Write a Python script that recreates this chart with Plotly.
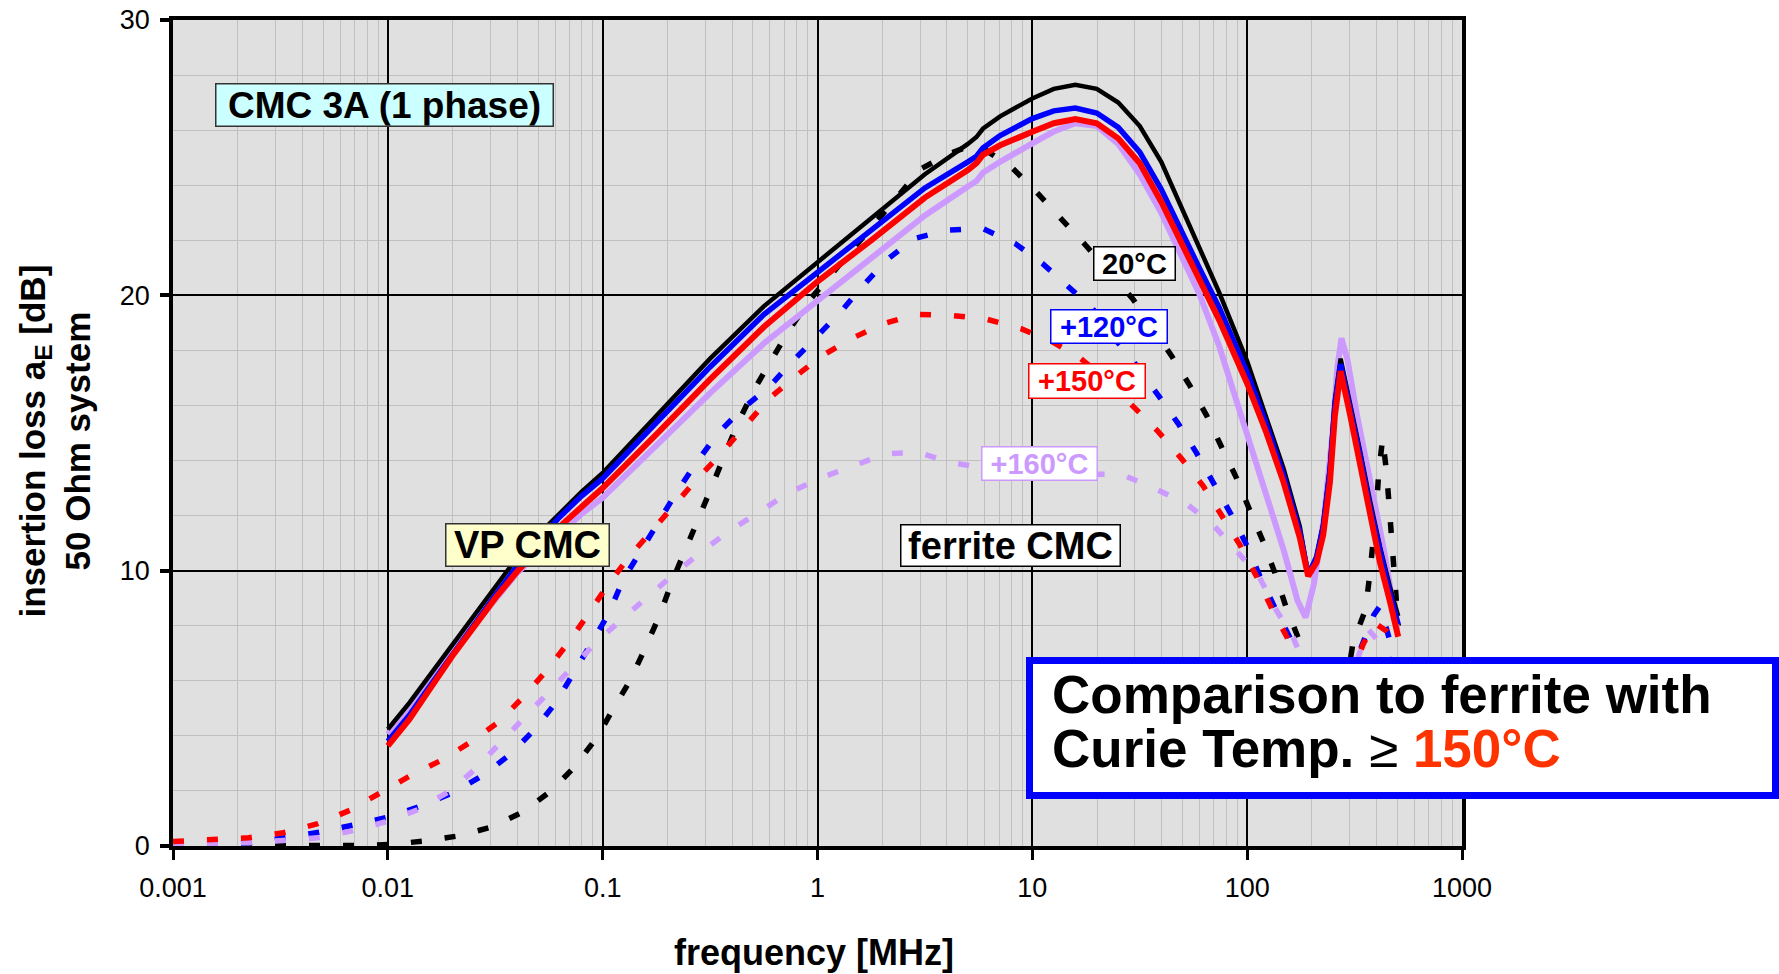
import plotly.graph_objects as go

# ---------------- data (frequency in MHz, insertion loss in dB) ----------------
# VP CMC (solid curves), common frequency grid for 20 / 120 / 150 degC
vp_freq = [0.01, 0.01259, 0.01585, 0.01995, 0.02512, 0.03162, 0.03981, 0.05012, 0.0631, 0.07943,
           0.1, 0.1778, 0.3162, 0.5623, 1.0, 1.778, 3.162, 5.012, 5.495, 5.888, 7.079,
           10.0, 12.59, 15.85, 19.95, 25.12, 31.62, 39.81, 50.12, 60.26, 74.13,
           100.0, 123.0, 147.9, 175.8, 192.3, 210.4, 225.9, 242.7, 255.9, 272.3,
           300.6, 335.0, 372.4, 415.0, 461.3, 504.7]
vp_20 = [4.24, 5.2, 6.25, 7.3, 8.3, 9.4, 10.45, 11.3, 12.1, 12.85,
         13.55, 15.6, 17.7, 19.6, 21.2, 22.8, 24.4, 25.5, 25.75, 26.05, 26.5,
         27.15, 27.5, 27.65, 27.5, 27.0, 26.15, 24.85, 23.1, 21.6, 20.1,
         17.6, 15.6, 13.7, 11.6, 9.86, 10.5, 11.7, 13.77, 16.2, 17.7,
         16.2, 14.37, 12.57, 10.88, 9.43, 8.35]
vp_120 = [3.8, 4.75, 5.85, 6.95, 8.0, 9.1, 10.15, 11.1, 11.95, 12.7,
          13.35, 15.35, 17.4, 19.3, 20.85, 22.4, 23.9, 24.85, 25.05, 25.35, 25.8,
          26.42, 26.7, 26.8, 26.62, 26.1, 25.2, 23.85, 22.3, 20.95, 19.55,
          17.2, 15.3, 13.45, 11.4, 9.85, 10.5, 11.6, 13.6, 16.0, 17.5,
          16.0, 14.2, 12.35, 10.65, 9.2, 8.05]
vp_150 = [3.64, 4.6, 5.75, 6.9, 7.95, 9.0, 9.95, 10.8, 11.6, 12.3,
          13.0, 14.95, 16.95, 18.85, 20.5, 22.0, 23.55, 24.55, 24.8, 25.1, 25.45,
          25.94, 26.25, 26.4, 26.25, 25.7, 24.8, 23.4, 21.85, 20.5, 19.1,
          16.8, 15.0, 13.2, 11.2, 9.8, 10.3, 11.3, 13.2, 15.6, 17.25,
          15.7, 13.9, 12.0, 10.3, 8.9, 7.6]
vp_160_freq = [0.01, 0.01259, 0.01585, 0.01995, 0.02512, 0.03162, 0.03981, 0.05012, 0.0631, 0.07943,
               0.1, 0.1778, 0.3162, 0.5623, 1.0, 1.778, 3.162, 5.012, 5.495, 5.888, 7.079,
               10.0, 12.59, 15.85, 19.95, 25.12, 31.62, 39.81, 50.12, 60.26, 74.13,
               100.0, 123.0, 147.9, 171.4, 187.1, 204.6, 228.0, 249.5, 263.0, 274.8,
               293.1, 325.8, 375.8, 433.5, 500.0]
vp_160 = [4.05, 5.0, 6.0, 7.05, 8.0, 9.0, 9.9, 10.65, 11.35, 12.05,
          12.65, 14.55, 16.45, 18.25, 19.8, 21.3, 22.9, 23.95, 24.15, 24.45, 24.85,
          25.52, 25.95, 26.25, 26.15, 25.5, 24.4, 23.0, 21.4, 20.0, 18.15,
          14.95, 12.65, 10.75, 8.92, 8.3, 9.53, 11.95, 14.98, 17.4, 18.44,
          17.65, 15.58, 13.16, 10.74, 7.83]

# ferrite CMC (dotted curves)
fe_20_freq = [0.001, 0.00316, 0.00708, 0.01, 0.0148, 0.0211, 0.0305, 0.0428, 0.0575, 0.0735,
              0.094, 0.113, 0.134, 0.158, 0.185, 0.211, 0.243, 0.281, 0.321, 0.367,
              0.424, 0.509, 0.612, 0.736, 0.912, 1.175, 1.514, 1.995, 2.41, 3.04,
              4.12, 5.01, 6.0, 8.13, 10.6, 13.6, 17.7, 29.3, 44.5, 54.1,
              64.7, 75.9, 89.1, 102.8, 118.6, 134.6, 151.4, 172.6, 204, 240,
              275, 311, 356, 372, 386, 400, 409, 427, 446, 458,
              470, 482, 495, 505]
fe_20 = [0.0, 0.0, 0.02, 0.05, 0.18, 0.36, 0.69, 1.25, 2.0, 2.85,
         3.94, 5.03, 6.0, 7.2, 8.42, 9.64, 10.73, 11.94, 13.03, 14.18,
         15.33, 16.6, 17.63, 18.73, 19.8, 20.8, 21.8, 22.9, 23.64, 24.6,
         25.15, 25.4, 25.3, 24.6, 23.7, 22.79, 21.82, 19.88, 17.8, 16.72,
         15.64, 14.5, 13.37, 12.2, 11.06, 9.92, 8.7, 7.57, 5.9, 4.6,
         4.8, 7.38, 8.6, 9.86, 11.0, 12.3, 13.5, 14.8, 13.55, 12.3,
         11.06, 9.86, 8.6, 8.0]
fe_120_freq = [0.001, 0.00151, 0.0023, 0.00332, 0.00479, 0.00692, 0.01, 0.0139, 0.0202, 0.0275,
               0.0369, 0.0483, 0.0604, 0.0735, 0.0885, 0.1064, 0.124, 0.149, 0.182, 0.223,
               0.271, 0.341, 0.445, 0.593, 0.759, 0.989, 1.279, 1.633, 2.089, 2.805,
               4.055, 5.861, 8.318, 11.17, 14.89, 18.97, 25.12, 30.48, 38.64, 47.75,
               58.08, 70.15, 83.95, 99.3, 114.6, 134.6, 158.1, 190.5, 239.9, 295.1,
               346.7, 389.0, 415.0, 458.0, 505.0]
fe_120 = [0.04, 0.06, 0.12, 0.3, 0.5, 0.76, 1.05, 1.42, 1.94, 2.55,
          3.31, 4.24, 5.2, 6.3, 7.4, 8.42, 9.64, 10.67, 11.8, 12.9,
          13.88, 14.96, 15.87, 16.66, 17.57, 18.48, 19.39, 20.36, 21.27, 22.06,
          22.37, 22.43, 21.88, 21.15, 20.3, 19.54, 18.27, 17.46, 16.36, 15.34,
          14.28, 13.17, 12.06, 10.94, 9.8, 8.65, 7.57, 6.0, 4.8, 6.0,
          7.4, 8.4, 8.71, 7.63, 6.4]
fe_150_freq = [0.001, 0.00154, 0.00225, 0.00326, 0.00472, 0.00667, 0.00918, 0.0127, 0.0178, 0.0245,
               0.033, 0.0428, 0.0547, 0.0692, 0.0857, 0.105, 0.132, 0.169, 0.216, 0.275,
               0.349, 0.45, 0.593, 0.782, 1.03, 1.429, 2.028, 2.877, 4.159, 6.012,
               8.851, 12.47, 16.67, 22.39, 29.44, 38.55, 49.43, 62.37, 75.86, 92.47,
               110.4, 129.7, 153.5, 186.2, 239.9, 295.1, 346.7, 392.6, 446.7, 505.0]
fe_150 = [0.16, 0.22, 0.3, 0.48, 0.81, 1.3, 1.9, 2.55, 3.12, 3.79,
          4.52, 5.42, 6.36, 7.39, 8.42, 9.45, 10.48, 11.45, 12.36, 13.33,
          14.18, 15.2, 16.24, 17.03, 17.76, 18.42, 18.97, 19.31, 19.27, 19.15,
          18.79, 18.3, 17.72, 16.9, 15.95, 15.05, 14.07, 13.08, 12.02, 10.94,
          9.8, 8.65, 7.57, 6.0, 4.8, 5.9, 7.33, 8.1, 7.8, 7.3]
fe_160_freq = [0.001, 0.00151, 0.00225, 0.00326, 0.00472, 0.00682, 0.01, 0.0139, 0.0195, 0.0255,
               0.033, 0.0423, 0.0557, 0.0713, 0.0933, 0.123, 0.163, 0.215, 0.286, 0.39,
               0.541, 0.721, 1.007, 1.455, 2.065, 2.931, 4.159, 6.31, 10.0, 15.85,
               25.88, 36.31, 51.76, 69.5, 89.74, 114.6, 134.6, 163.7, 199.5, 251.2,
               316.2, 365.6, 445.6, 505.0]
fe_160 = [0.06, 0.08, 0.12, 0.2, 0.3, 0.55, 0.9, 1.33, 2.0, 2.79,
          3.72, 4.6, 5.58, 6.48, 7.4, 8.24, 9.09, 9.88, 10.67, 11.45,
          12.15, 12.79, 13.33, 13.82, 14.24, 14.3, 13.93, 13.7, 13.6, 13.5,
          13.5, 13.02, 12.45, 11.66, 10.7, 9.73, 8.65, 7.57, 6.0, 5.0,
          6.5, 7.87, 7.1, 6.0]

x_tick_vals = [0.001, 0.01, 0.1, 1, 10, 100, 1000]
x_tick_text = ["0.001", "0.01", "0.1", "1", "10", "100", "1000"]
y_tick_vals = [0, 10, 20, 30]

temp_labels = ["20°C", "+120°C", "+150°C", "+160°C"]
series_colors = ["#000000", "#0000FF", "#FF0000", "#CC99FF"]

# ---------------- figure ----------------
FONT = "Liberation Sans, Arial, sans-serif"
W, H = 1779, 974
PL, PR, PT, PB = 173, 1462, 20, 846


def xp(px):
    return (px - PL) / (PR - PL)


def yp(py):
    return (PB - py) / (PB - PT)


fig = go.Figure()

DOT = "11px,23px"
ferrite = [(fe_20_freq, fe_20, 0), (fe_120_freq, fe_120, 1), (fe_160_freq, fe_160, 3), (fe_150_freq, fe_150, 2)]
for fx, fy, i in ferrite:
    fig.add_trace(go.Scatter(x=fx, y=fy, mode="lines", name="ferrite " + temp_labels[i],
                             line=dict(color=series_colors[i], width=5.5, dash=DOT)))

vp = [(vp_160_freq, vp_160, 3, 6), (vp_freq, vp_20, 0, 4.5), (vp_freq, vp_120, 1, 5.5), (vp_freq, vp_150, 2, 6)]
for fx, fy, i, w in vp:
    fig.add_trace(go.Scatter(x=fx, y=fy, mode="lines", name="VP " + temp_labels[i],
                             line=dict(color=series_colors[i], width=w)))

minor_x = [m * 10 ** e for e in range(-3, 3) for m in range(2, 10)]

fig.update_xaxes(type="log", range=[-3, 3], tickmode="array", tickvals=x_tick_vals, ticktext=x_tick_text,
                 ticks="outside", ticklen=10, tickwidth=3, tickcolor="black",
                 showline=True, linecolor="black", linewidth=3.5, mirror=True,
                 showgrid=True, gridcolor="black", gridwidth=1.6, zeroline=False, automargin=False,
                 tickfont=dict(family=FONT, size=27, color="black"), ticklabelstandoff=5,
                 minor=dict(tickmode="array", tickvals=minor_x, showgrid=True,
                            gridcolor="#C0C0C0", gridwidth=1.3, ticks=""))
fig.update_yaxes(range=[0, 30], tickmode="array", tickvals=y_tick_vals,
                 ticks="outside", ticklen=9, tickwidth=3.5, tickcolor="black",
                 showline=True, linecolor="black", linewidth=3.5, mirror=True,
                 showgrid=True, gridcolor="black", gridwidth=1.6, zeroline=False, automargin=False,
                 tickfont=dict(family=FONT, size=27, color="black"), ticklabelstandoff=5,
                 minor=dict(dtick=2, showgrid=True, gridcolor="#C0C0C0", gridwidth=1.3, ticks=""))

annotations = []


def box_label(text, cx, cy, w, h, size, color, bg, border):
    annotations.append(dict(text="<b>" + text + "</b>", xref="paper", yref="paper",
                            x=xp(cx), y=yp(cy), xanchor="center", yanchor="middle",
                            width=w - 3, height=h - 3, showarrow=False,
                            bgcolor=bg, bordercolor=border, borderwidth=1.5, borderpad=0,
                            font=dict(family=FONT, size=size, color=color)))


box_label("CMC 3A (1 phase)", 384.5, 105, 339, 44, 37, "black", "#CCFFFF", "#333333")
box_label("VP CMC", 527.5, 545, 165, 44, 38, "black", "#FFFFCC", "#333333")
box_label("ferrite CMC", 1010.5, 545.5, 221, 43, 38, "black", "white", "black")
box_label(temp_labels[0], 1134.5, 263.5, 83, 35, 29, series_colors[0], "white", series_colors[0])
box_label(temp_labels[1], 1109, 326.5, 118, 35, 29, series_colors[1], "white", series_colors[1])
box_label(temp_labels[2], 1087, 381, 118, 36, 29, series_colors[2], "white", series_colors[2])
box_label(temp_labels[3], 1039.5, 463.5, 117, 35, 29, series_colors[3], "white", series_colors[3])

# big comparison box
fig.add_shape(type="rect", xref="paper", yref="paper",
              x0=xp(1029.5), x1=xp(1775.5), y0=yp(795.5), y1=yp(660.5),
              line=dict(color="#0000FF", width=7), fillcolor="white", layer="above")
annotations.append(dict(text="<b>Comparison to ferrite with</b>", xref="paper", yref="paper",
                        x=xp(1050), y=yp(694.5), xanchor="left", yanchor="middle", showarrow=False,
                        font=dict(family=FONT, size=53, color="black")))
annotations.append(dict(text="<b>Curie Temp.</b> ≥ <b><span style='color:#FF3300'>150°C</span></b>",
                        xref="paper", yref="paper",
                        x=xp(1050), y=yp(748.5), xanchor="left", yanchor="middle", showarrow=False,
                        font=dict(family=FONT, size=53, color="black")))

# axis titles
annotations.append(dict(text="<b>insertion loss a<sub>E</sub> [dB]</b><br><b>50 Ohm system</b>",
                        xref="paper", yref="paper", x=xp(54.5), y=yp(441), xanchor="center",
                        yanchor="middle", textangle=-90, showarrow=False,
                        font=dict(family=FONT, size=35, color="black")))
annotations.append(dict(text="<b>frequency [MHz]</b>", xref="paper", yref="paper",
                        x=xp(814), y=yp(953), xanchor="center", yanchor="middle", showarrow=False,
                        font=dict(family=FONT, size=36, color="black")))

fig.update_layout(width=W, height=H, margin=dict(l=PL, r=W - PR, t=PT, b=H - PB, pad=0, autoexpand=False),
                  paper_bgcolor="white", plot_bgcolor="#E0E0E0", showlegend=False,
                  font=dict(family=FONT, color="black"), annotations=annotations)

fig.write_html("out.html", config={"displayModeBar": False},
               post_script="document.body.style.margin='0';document.body.style.overflow='hidden';")
